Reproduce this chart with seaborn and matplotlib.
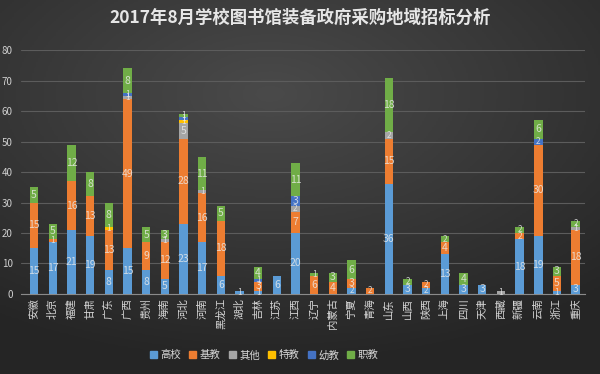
import numpy as np
import pandas as pd
import matplotlib
matplotlib.use("Agg")
import matplotlib.pyplot as plt
import seaborn as sns

provinces = ["安徽", "北京", "福建", "甘肃", "广东", "广西", "贵州", "海南", "河北", "河南",
             "黑龙江", "湖北", "吉林", "江苏", "江西", "辽宁", "内蒙古", "宁夏", "青海", "山东",
             "山西", "陕西", "上海", "四川", "天津", "西藏", "新疆", "云南", "浙江", "重庆"]

gaoxiao = [15, 17, 21, 19, 8, 15, 8, 5, 23, 17, 6, 1, 1, 6, 20, 0, 0, 2, 0, 36, 3, 2, 13, 3, 3, 0, 18, 19, 1, 3]
jijiao  = [15, 1, 16, 13, 13, 49, 9, 12, 28, 16, 18, 0, 3, 0, 7, 6, 4, 3, 2, 15, 0, 2, 4, 0, 0, 0, 2, 30, 5, 18]
qita    = [0, 0, 0, 0, 0, 1, 0, 1, 5, 1, 0, 0, 0, 0, 2, 0, 0, 0, 0, 2, 0, 0, 0, 0, 0, 1, 0, 0, 0, 1]
tejiao  = [0, 0, 0, 0, 1, 0, 0, 0, 1, 0, 0, 0, 0, 0, 0, 0, 0, 0, 0, 0, 0, 0, 0, 0, 0, 0, 0, 0, 0, 0]
youjiao = [0, 0, 0, 0, 0, 1, 0, 0, 1, 0, 0, 0, 1, 0, 3, 0, 0, 0, 0, 0, 0, 0, 0, 0, 0, 0, 0, 2, 0, 0]
zhijiao = [5, 5, 12, 8, 8, 8, 5, 3, 1, 11, 5, 0, 4, 0, 11, 1, 3, 6, 0, 18, 2, 0, 2, 4, 0, 0, 2, 6, 3, 2]

series = ["高校", "基教", "其他", "特教", "幼教", "职教"]
colors = ["#5B9BD5", "#ED7D31", "#A5A5A5", "#FFC000", "#4472C4", "#70AD47"]

df = pd.DataFrame({"省份": provinces, "高校": gaoxiao, "基教": jijiao, "其他": qita,
                   "特教": tejiao, "幼教": youjiao, "职教": zhijiao})
cum = df[series].cumsum(axis=1)

sns.set_style("white")
plt.rcParams["font.family"] = ["Noto Sans CJK SC", "DejaVu Sans"]

fig = plt.figure(figsize=(6, 3.74), dpi=100)

# dark gradient background
bg = fig.add_axes([0, 0, 1, 1], zorder=-10)
yy, xx = np.mgrid[0:1:200j, 0:1:300j]
r = np.sqrt(((xx - 0.45) / 0.9) ** 2 + ((yy - 0.25) / 0.8) ** 2)
bg.imshow(r, cmap=sns.dark_palette("#4a4a4a", as_cmap=True, reverse=True),
          aspect="auto", extent=[0, 1, 0, 1], vmin=0, vmax=0.9)
bg.axis("off")

ax = fig.add_axes([0.035, 0.214, 0.94, 0.652])
ax.set_facecolor("none")

# stacked bars: draw cumulative totals from top series down
for s, c in reversed(list(zip(series, colors))):
    sns.barplot(x=df["省份"], y=cum[s], color=c, width=0.45, ax=ax,
                saturation=1, linewidth=0, edgecolor="none", zorder=3)

# segment labels
for i in range(len(provinces)):
    bottom = 0
    for s in series:
        v = df[s][i]
        if v > 0:
            fs = 7.5 if v >= 3 else 6
            ax.text(i, bottom + v / 2, str(v), ha="center", va="center",
                    fontsize=fs, color="#ececec", alpha=0.8, zorder=5)
        bottom += v

ax.set_ylim(0, 80)
ax.set_xlim(-0.7, 29.5)
ax.set_yticks(range(0, 81, 10))
ax.yaxis.grid(True, color="#5c5c5c", linewidth=0.8, zorder=0)
ax.set_xlabel("")
ax.set_ylabel("")
for sp in ["top", "right", "left"]:
    ax.spines[sp].set_visible(False)
ax.spines["bottom"].set_color("#8a8a8a")
ax.tick_params(axis="y", length=0, labelsize=7, colors="#cfcfcf", pad=6)
ax.tick_params(axis="x", length=0, labelsize=7.5, colors="#d8d8d8", pad=3)
ax.set_xticks(range(len(provinces)))
ax.set_xticklabels(provinces, rotation=90)

fig.text(0.5, 0.952, "2017年8月学校图书馆装备政府采购地域招标分析", ha="center", va="center",
         fontsize=12.5, fontweight="bold", color="#e6e6e6")

handles = [plt.Rectangle((0, 0), 1, 1, color=c) for c in colors]
fig.legend(handles, series, loc="center", bbox_to_anchor=(0.44, 0.05), ncol=6,
           frameon=False, fontsize=7.5, labelcolor="#d8d8d8", handlelength=0.7,
           handleheight=0.7, handletextpad=0.3, columnspacing=0.8)

fig.savefig("out.png", dpi=100)
